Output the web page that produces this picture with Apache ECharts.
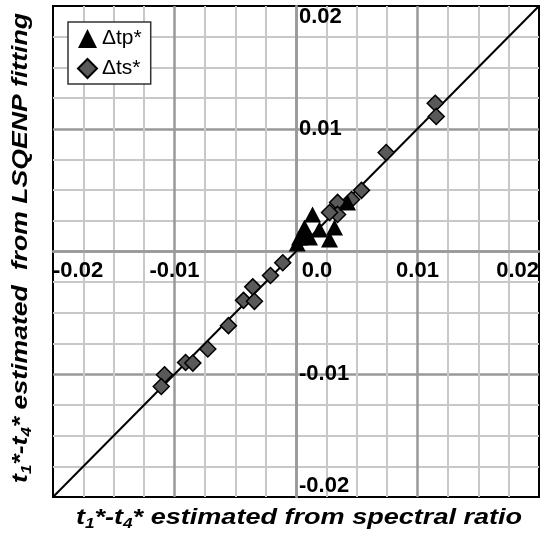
<!DOCTYPE html>
<html>
<head>
<meta charset="utf-8">
<script src="https://cdn.jsdelivr.net/npm/echarts@6/dist/echarts.min.js"></script>
<style>
  html, body { margin: 0; padding: 0; background: #fff; }
  #chart { width: 547px; height: 540px; }
</style>
</head>
<body>
<div id="chart"></div>
<script>
// Δtp* points [spectral ratio, LSQENP fitting]
const tpPoints = [
  [0.00136, 0.00302],
  [0.0007, 0.00196],
  [0.00029, 0.00114],
  [0.00193, 0.0018],
  [0.00317, 0.00196],
  [0.00276, 0.00098],
  [0.00111, 0.00114],
  [0.00424, 0.004],
  [0.00053, 0.00147],
  [0.0001, 0.00065],
];
// Δts* points
const tsPoints = [
  [0.01146, 0.01208],
  [0.01154, 0.011],
  [0.00742, 0.00806],
  [0.00539, 0.00498],
  [0.00457, 0.00424],
  [0.00342, 0.004],
  [0.00342, 0.00302],
  [0.00276, 0.00318],
  [-0.00109, -0.00092],
  [-0.0021, -0.00196],
  [-0.00356, -0.00288],
  [-0.00432, -0.00398],
  [-0.00342, -0.00406],
  [-0.00556, -0.00604],
  [-0.00726, -0.00794],
  [-0.00909, -0.00904],
  [-0.00849, -0.00909],
  [-0.01082, -0.01004],
  [-0.01109, -0.011],
];
// 1:1 line
const diagonal = [[-0.02, -0.02], [0.02, 0.02]];
const axisMin = -0.02;
const axisMax = 0.02;
const axisStep = 0.01;

const FONT = "'Liberation Sans', Arial, sans-serif";
const titleRich = {
  t: { fontFamily: FONT, fontSize: 22, fontWeight: "bold", fontStyle: "italic", color: "#000" },
  s: { fontFamily: FONT, fontSize: 14, fontWeight: "bold", fontStyle: "italic", color: "#000", padding: [13, 0, 0, 0] },
};

// grid box (px)
const gridLeft = 53, gridRight = 8, gridTop = 6, gridBottom = 43;
const plotW = 547 - gridLeft - gridRight;
const plotH = 540 - gridTop - gridBottom;

const myChart = echarts.init(document.getElementById("chart"));

const majorLine = { color: "#999", width: 2.5 };
const minorLine = { color: "#c8c8c8", width: 2 };
const labelFont = { fontFamily: FONT, fontSize: 22, fontWeight: "bold", color: "#000" };

const option = {
  animation: false,
  grid: {
    left: gridLeft,
    right: gridRight,
    top: gridTop,
    bottom: gridBottom,
    show: true,
    borderColor: "#000",
    borderWidth: 2,
  },
  legend: {
    orient: "vertical",
    left: 68,
    top: 22,
    padding: [6, 9, 5, 9],
    itemGap: 9,
    itemWidth: 19,
    itemHeight: 19,
    backgroundColor: "#fff",
    borderColor: "#333",
    borderWidth: 1.5,
    textStyle: { fontFamily: FONT, fontSize: 21, color: "#000" },
    data: ["Δtp*", "Δts*"],
  },
  xAxis: {
    type: "value",
    position: "bottom",
    // sit on the y = 0 line
    offset: -plotH / 2,
    min: axisMin,
    max: axisMax,
    interval: axisStep,
    axisLine: { onZero: false, lineStyle: majorLine },
    axisTick: { show: false },
    minorTick: { show: false, splitNumber: 4 },
    splitLine: { show: true, showMinLine: false, showMaxLine: false, lineStyle: majorLine },
    minorSplitLine: { show: true, lineStyle: minorLine },
    axisLabel: {
      ...labelFont,
      margin: 8,
      alignMinLabel: "left",
      alignMaxLabel: "right",
      formatter: (v) => (Math.abs(v) < 1e-9 ? "{z|0.0}" : v.toFixed(2)),
      rich: {
        z: { ...labelFont, padding: [0, 0, 0, 42] },
      },
    },
  },
  yAxis: {
    type: "value",
    position: "left",
    // sit on the x = 0 line
    offset: -plotW / 2,
    min: axisMin,
    max: axisMax,
    interval: axisStep,
    axisLine: { onZero: false, lineStyle: majorLine },
    axisTick: { show: false },
    minorTick: { show: false, splitNumber: 4 },
    splitLine: { show: true, showMinLine: false, showMaxLine: false, lineStyle: majorLine },
    minorSplitLine: { show: true, lineStyle: minorLine },
    axisLabel: {
      ...labelFont,
      inside: true,
      margin: 3,
      verticalAlignMinLabel: "bottom",
      verticalAlignMaxLabel: "top",
      formatter: (v) => (Math.abs(v) < 1e-9 ? "" : v.toFixed(2)),
    },
  },
  graphic: [
    {
      type: "text",
      x: 299,
      y: 518,
      scaleX: 1.23,
      style: {
        text: "{t|t}{s|1}{t|*-t}{s|4}{t|* estimated from spectral ratio}",
        rich: titleRich,
        align: "center",
        verticalAlign: "middle",
      },
    },
    {
      type: "text",
      x: 21,
      y: 248,
      rotation: Math.PI / 2,
      scaleX: 1.21,
      style: {
        text: "{t|t}{s|1}{t|*-t}{s|4}{t|* estimated  from LSQENP fitting}",
        rich: titleRich,
        align: "center",
        verticalAlign: "middle",
      },
    },
  ],
  series: [
    {
      type: "line",
      data: diagonal,
      symbol: "none",
      silent: true,
      lineStyle: { color: "#000", width: 2 },
      z: 3,
    },
    {
      name: "Δtp*",
      type: "scatter",
      data: tpPoints,
      symbol: "triangle",
      symbolSize: [17, 16],
      itemStyle: { color: "#000", opacity: 1 },
      z: 5,
    },
    {
      name: "Δts*",
      type: "scatter",
      data: tsPoints,
      symbol: "diamond",
      symbolSize: [16, 16],
      itemStyle: { color: "#595959", borderColor: "#000", borderWidth: 1.5, opacity: 1 },
      z: 4,
    },
  ],
};

myChart.setOption(option);
</script>
</body>
</html>
